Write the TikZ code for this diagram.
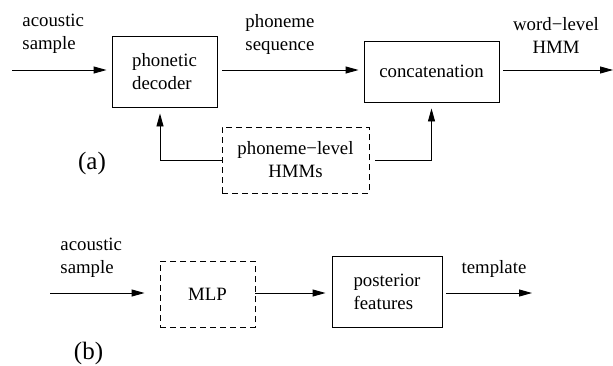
\documentclass[tikz,border=0pt]{standalone}
\usepackage{fontspec}
\setmainfont{Liberation Serif}
\newfontfamily\figfont{Liberation Serif}
\usetikzlibrary{arrows.meta}

\begin{document}
\begin{tikzpicture}[x=1pt, y=-1pt, line width=0.9pt,
		font=\figfont\fontsize{18.8}{23}\selectfont,
		blk/.style={draw, rectangle, align=left, inner sep=0pt},
		dblk/.style={blk, dash pattern=on 6pt off 4pt},
		lbl/.style={inner sep=0pt},
		tag/.style={inner sep=0pt, font=\figfont\fontsize{25}{30}\selectfont},
		flow/.style={-{Triangle[length=13pt, width=7pt]}, shorten >=5pt}]
				\useasboundingbox (0, 0) rectangle (613, 365);
				% (a)
				\node[blk, minimum width=105pt, minimum height=71pt] (dec)at(164.5, 71.5) {phonetic\\decoder};
				\node[blk, minimum width=135pt, minimum height=61pt] (cat)at(431.5, 71.5) {concatenation};
				\node[dblk, minimum width=147pt, minimum height=66pt, align=center] (hmm)at(295.5, 160) {phoneme−level\\HMMs};
				\coordinate (in0)at(12, 70);
				\coordinate (out0)at(613, 70);
				\node[lbl, anchor=west, align=left] (lblin0)at(22, 34) {acoustic\\sample};
				\node[lbl, anchor=west, align=left] (lblseq)at(245, 34) {phoneme\\sequence};
				\node[lbl, align=center] (lblword)at(556, 35) {word−level\\HMM};
				\node[tag] (lbla)at(92, 163) {(a)};
				\draw[flow] (in0) -- (in0 -| dec.west);
				\draw[flow, shorten <=5pt] (dec.east |- in0) -- (cat.west |- in0);
				\draw[flow, shorten <=4pt, shorten >=0pt] (cat.east |- in0) -- (out0);
				\draw[flow, shorten >=6pt] (hmm.west) -| ([xshift=-4.5pt]dec.south);
				\draw[flow, shorten <=6pt, shorten >=6pt] (hmm.east) -| (cat.south);
				% (b)
				\node[dblk, minimum width=95pt, minimum height=66pt] (mlp)at(207.5, 294) {MLP};
				\node[blk, minimum width=110pt, minimum height=71pt] (post)at(387, 291.5) {posterior\\features};
				\coordinate (in1)at(50, 293);
				\coordinate (out1)at(532, 293);
				\node[lbl, anchor=west, align=left] (lblin1)at(60, 258) {acoustic\\sample};
				\node[lbl] (lbltpl)at(494, 269) {template};
				\node[tag] (lblb)at(88.5, 353) {(b)};
				\draw[flow, shorten >=15pt] (in1) -- (in1 -| mlp.west);
				\draw[flow, shorten >=6pt] (mlp.east |- in1) -- (post.west |- in1);
				\draw[flow, shorten <=4pt, shorten >=0pt] (post.east |- in1) -- (out1);
			\end{tikzpicture}
\end{document}
